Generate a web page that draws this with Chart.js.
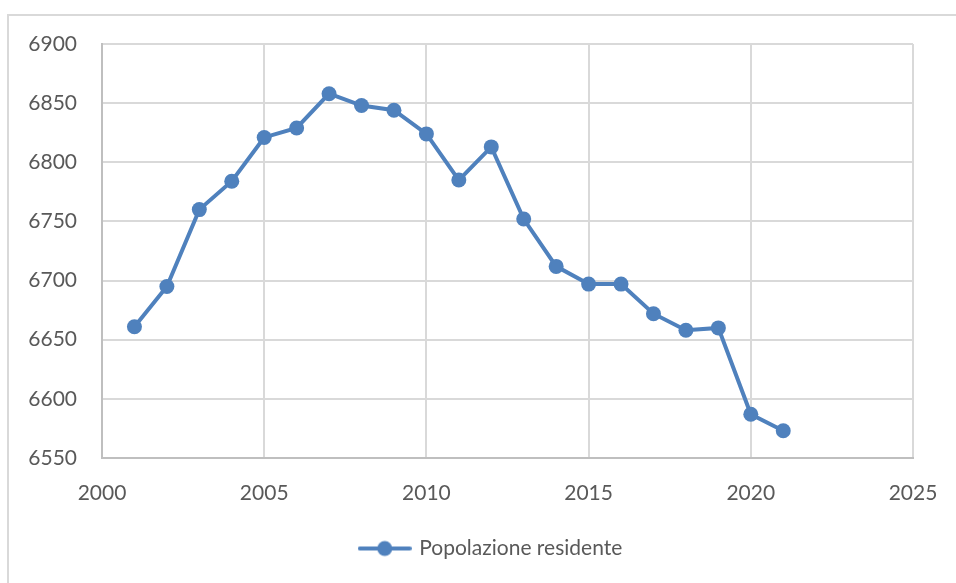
<!DOCTYPE html>
<html><head><meta charset="utf-8">
<script src="https://cdn.jsdelivr.net/npm/chart.js@4"></script>
<style>html,body{margin:0;padding:0;background:#fff}#wrap{width:956px;height:583px;position:relative}canvas{display:block}</style>
</head><body><div id="wrap"><canvas id="c" width="956" height="583"></canvas></div>
<script>
const years = [2001,2002,2003,2004,2005,2006,2007,2008,2009,2010,2011,2012,2013,2014,2015,2016,2017,2018,2019,2020,2021];
const population = [6661,6695,6760,6784,6821,6829,6858,6848,6844,6824,6785,6813,6752,6712,6697,6697,6672,6658,6660,6587,6573];
const xTicks = [2000,2005,2010,2015,2020,2025];
const yTicks = [6550,6600,6650,6700,6750,6800,6850,6900];
const seriesLabel = 'Popolazione residente';

const BLUE = '#4f81bd';
const GRID = '#d9d9d9';
const TEXT = '#595959';
const FONT = 'Lato, "Noto Sans", sans-serif';

// legend symbol: line with a round marker
const sym = document.createElement('canvas');
sym.width = 54; sym.height = 18;
(function(){
  const g = sym.getContext('2d');
  g.strokeStyle = BLUE; g.lineWidth = 4; g.lineCap = 'round';
  g.beginPath(); g.moveTo(2, 9); g.lineTo(52, 9); g.stroke();
  g.fillStyle = BLUE; g.beginPath(); g.arc(27, 9, 7.5, 0, Math.PI*2); g.fill();
})();

const frame = {
  id: 'frame',
  beforeDraw(chart) {
    const ctx = chart.ctx;
    ctx.save();
    ctx.strokeStyle = GRID; ctx.lineWidth = 2;
    ctx.beginPath();
    ctx.moveTo(8, 583); ctx.lineTo(8, 15); ctx.lineTo(956, 15);
    ctx.stroke();
    ctx.restore();
  },
  afterLayout(chart) {
    // centre the legend like the original (slightly right of canvas centre)
    const lg = chart.legend;
    if (lg) { lg.left += 35; lg.right += 35; }
  }
};

new Chart(document.getElementById('c'), {
  type: 'line',
  data: {
    datasets: [{
      label: seriesLabel,
      data: years.map((y, i) => ({x: y, y: population[i]})),
      borderColor: BLUE,
      backgroundColor: BLUE,
      borderWidth: 4,
      pointRadius: 7.5,
      pointHoverRadius: 7.5,
      pointBackgroundColor: BLUE,
      pointBorderWidth: 0,
      tension: 0
    }]
  },
  options: {
    responsive: false,
    animation: false,
    layout: { padding: { left: 0, top: 44, right: 43, bottom: 14 } },
    plugins: {
      tooltip: { enabled: false },
      legend: {
        position: 'bottom',
        labels: {
          usePointStyle: true,
          pointStyleWidth: 48,
          color: TEXT,
          font: { family: FONT, size: 21 },
          generateLabels(chart) {
            return [{
              text: seriesLabel, pointStyle: sym, fillStyle: BLUE, strokeStyle: BLUE,
              lineWidth: 0, fontColor: TEXT, datasetIndex: 0, hidden: false
            }];
          }
        }
      }
    },
    scales: {
      x: {
        type: 'linear', min: 2000, max: 2025,
        afterBuildTicks(s) { s.ticks = xTicks.map(v => ({value: v})); },
        afterFit(s) { s.height = 70; s.paddingLeft = 0; s.paddingRight = 0; },
        grid: { color: GRID, lineWidth: 2, drawTicks: false },
        border: { display: true, color: '#bfbfbf', width: 2 },
        ticks: { color: TEXT, font: { family: FONT, size: 21 }, padding: 23, callback: v => String(v) }
      },
      y: {
        min: 6550, max: 6900,
        afterBuildTicks(s) { s.ticks = yTicks.map(v => ({value: v})); },
        afterFit(s) { s.width = 102; s.paddingTop = 0; s.paddingBottom = 0; },
        grid: { color: GRID, lineWidth: 2, drawTicks: false },
        border: { display: true, color: '#bfbfbf', width: 2 },
        ticks: { color: TEXT, font: { family: FONT, size: 21 }, padding: 25, callback: v => String(v) }
      }
    }
  },
  plugins: [frame]
});
</script>
</body></html>
